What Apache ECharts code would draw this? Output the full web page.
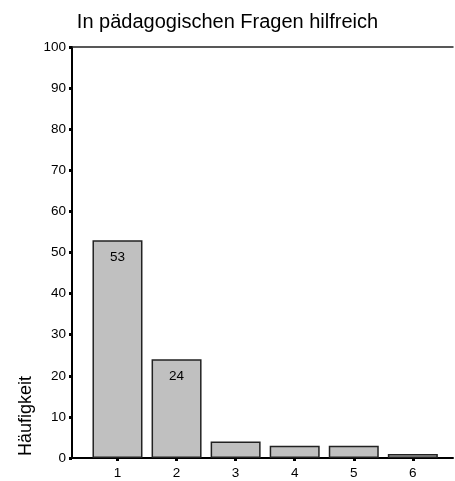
<!DOCTYPE html>
<html>
<head>
<meta charset="utf-8">
<script src="https://cdn.jsdelivr.net/npm/echarts@6/dist/echarts.min.js"></script>
<style>html,body{margin:0;padding:0;background:#fff;}#c{width:455px;height:481px;}</style>
</head>
<body>
<div id="c"></div>
<script>
const titleText = 'In pädagogischen Fragen hilfreich';
const yName = 'Häufigkeit';
const categories = [1, 2, 3, 4, 5, 6];
const values = [53, 24, 4, 3, 3, 1];
const yTicks = [0, 10, 20, 30, 40, 50, 60, 70, 80, 90, 100];

const font = 'Liberation Sans, Arial, sans-serif';
const chart = echarts.init(document.getElementById('c'));
chart.setOption({
  animation: false,
  backgroundColor: '#fff',
  title: {
    text: titleText, left: 'center', top: 7,
    textStyle: { fontFamily: font, fontSize: 20, fontWeight: 'normal', color: '#000' }
  },
  grid: { left: 72, right: 2, top: 47, bottom: 23 },
  xAxis: [{
    type: 'value', min: 0.23, max: 6.68,
    splitLine: { show: false },
    axisLine: { show: true, onZero: false, lineStyle: { color: '#000', width: 2 } },
    axisTick: { show: true, customValues: categories, length: 3, lineStyle: { color: '#000', width: 3 } },
    axisLabel: { customValues: categories, margin: 8, color: '#000', fontFamily: font, fontSize: 13.5 }
  }, {
    type: 'value', min: 0.23, max: 6.68, position: 'top',
    splitLine: { show: false },
    axisLine: { show: true, onZero: false, lineStyle: { color: '#222', width: 1.5 } },
    axisTick: { show: false }, axisLabel: { show: false }
  }],
  yAxis: {
    type: 'value', min: 0, max: 100, interval: 10,
    splitLine: { show: false },
    axisLine: { show: true, lineStyle: { color: '#000', width: 2 } },
    axisTick: { show: true, length: 3, lineStyle: { color: '#000', width: 3 } },
    axisLabel: { margin: 6, color: '#000', fontFamily: font, fontSize: 13.5,
      customValues: yTicks }
  },
  graphic: [{
    type: 'text', x: 26, y: 416, rotation: Math.PI / 2,
    style: { text: yName, fontFamily: font, fontSize: 18, fill: '#000', align: 'center', verticalAlign: 'middle' }
  }],
  series: [{
    type: 'bar', xAxisIndex: 0,
    barWidth: 50,
    data: categories.map((c, i) => [c, values[i]]),
    itemStyle: { color: '#c0c0c0', borderColor: '#222', borderWidth: 1.5 },
    label: {
      show: true, position: 'insideTop', distance: 10,
      color: '#000', fontFamily: font, fontSize: 13.5,
      formatter: p => (p.value[1] >= 10 ? String(p.value[1]) : '')
    }
  }]
});
</script>
</body>
</html>
